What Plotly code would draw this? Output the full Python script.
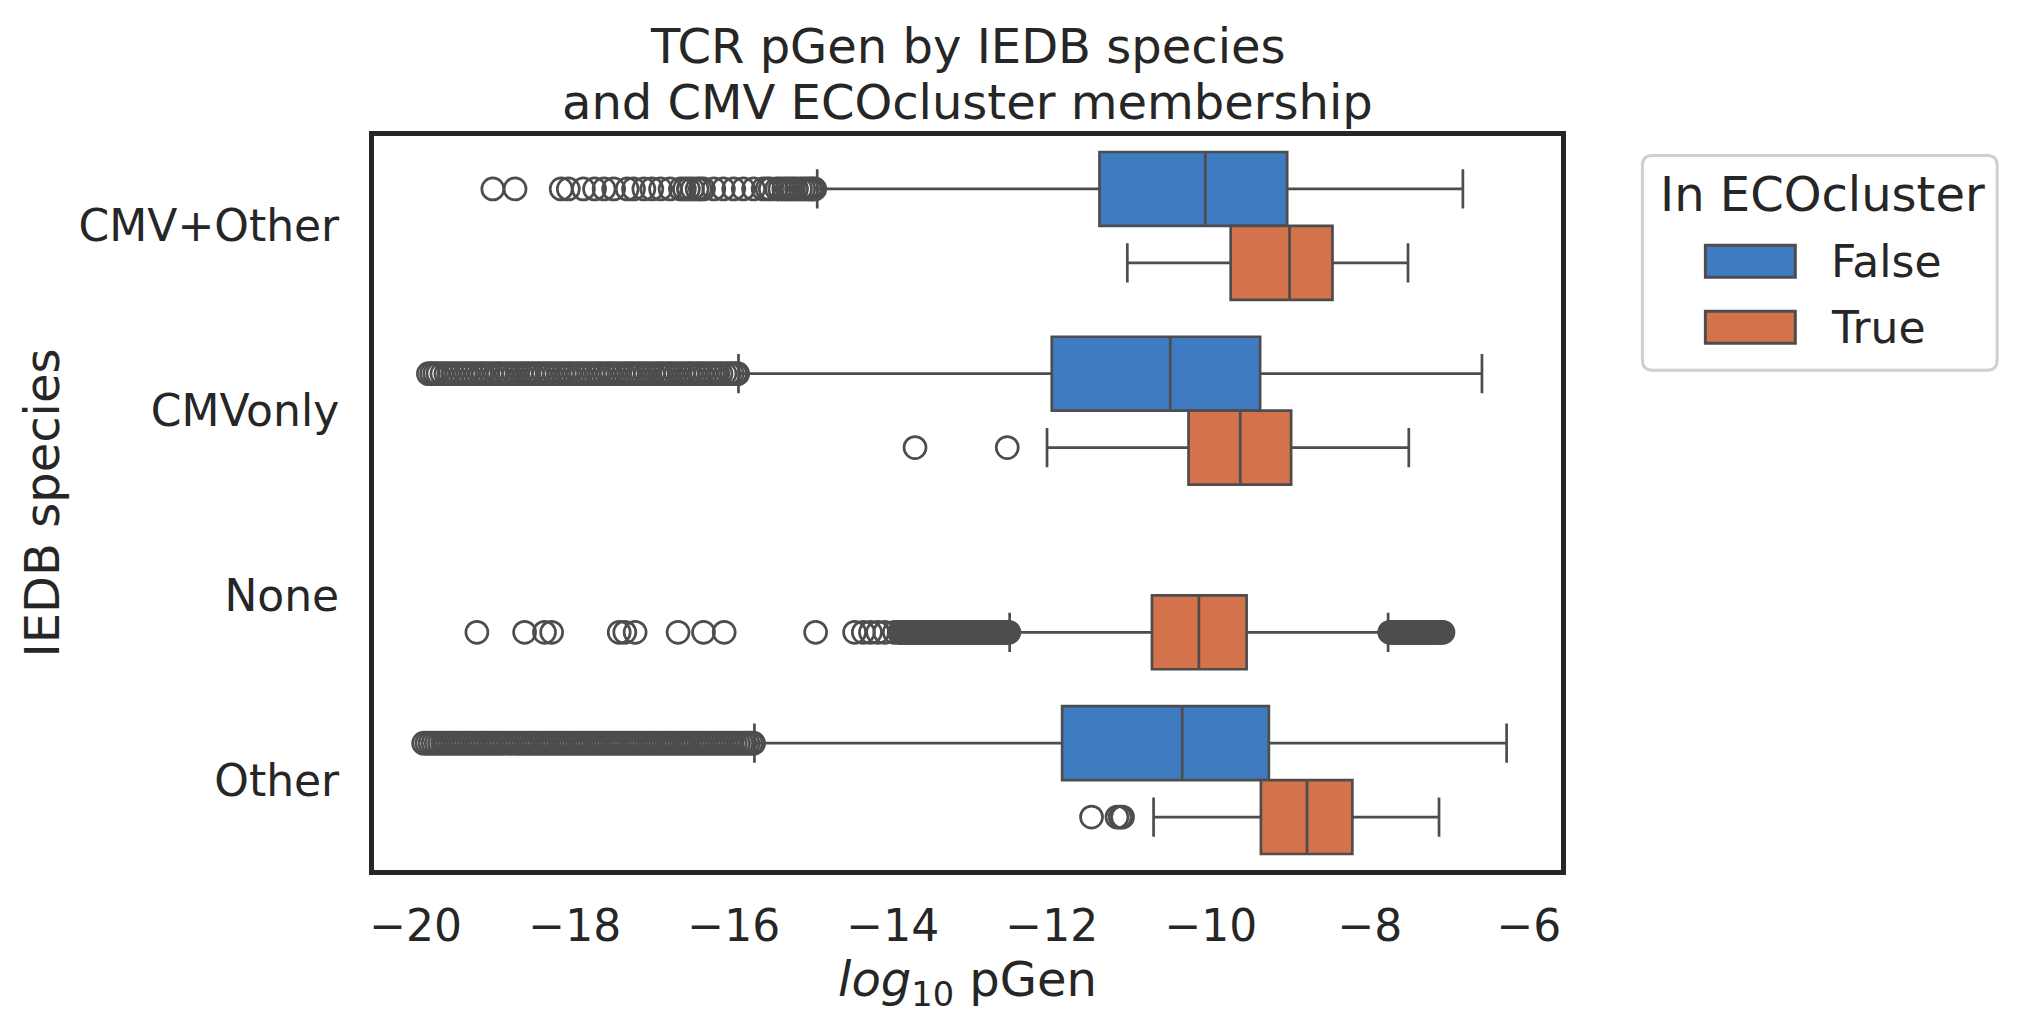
import plotly.graph_objects as go

# ---- data (log10 pGen) ----
SPECIES = ["CMV+Other", "CMVonly", "None", "Other"]
IN_CLUSTER = ["False", "True"]
X_TICKS = [-20, -18, -16, -14, -12, -10, -8, -6]
TITLE_LINES = ["TCR pGen by IEDB species", "and CMV ECOcluster membership"]

# box stats per species, None = group not present
Q1_FALSE = [-11.40, -12.00, None, -11.87]
MED_FALSE = [-10.07, -10.51, None, -10.36]
Q3_FALSE = [-9.04, -9.38, None, -9.27]
LOW_FALSE = [-14.95, -15.94, None, -15.74]
HIGH_FALSE = [-6.83, -6.59, None, -6.28]

Q1_TRUE = [-9.75, -10.28, -10.74, -9.37]
MED_TRUE = [-9.01, -9.63, -10.15, -8.79]
Q3_TRUE = [-8.47, -8.99, -9.55, -8.22]
LOW_TRUE = [-11.05, -12.06, -12.53, -10.72]
HIGH_TRUE = [-7.52, -7.51, -7.77, -7.13]

# outliers
FLIERS_CMV_OTHER_FALSE = [
    -19.03, -18.75, -18.17, -18.08, -17.89, -17.75, -17.63, -17.51, -17.34,
    -17.26, -17.13, -17.03, -16.92, -16.80, -16.67, -16.62, -16.57, -16.52,
    -16.46, -16.42, -16.38, -16.25, -16.13, -16.00, -15.88, -15.75, -15.63,
    -15.58, -15.54, -15.46, -15.42, -15.37, -15.33, -15.29, -15.25, -15.21,
    -15.16, -15.12, -15.08, -15.04, -15.01, -14.98,
]
FLIERS_CMVONLY_FALSE = [
    -19.84, -19.80, -19.76, -19.72, -19.67, -19.62, -19.58, -19.53, -19.48,
    -19.43, -19.38, -19.34, -19.29, -19.24, -19.19, -19.15, -19.10, -19.05,
    -19.00, -18.96, -18.91, -18.86, -18.82, -18.77, -18.72, -18.67, -18.62,
    -18.58, -18.53, -18.48, -18.44, -18.39, -18.34, -18.30, -18.25, -18.20,
    -18.15, -18.10, -18.06, -18.01, -17.96, -17.92, -17.87, -17.82, -17.77,
    -17.72, -17.68, -17.63, -17.58, -17.54, -17.49, -17.44, -17.39, -17.34,
    -17.30, -17.25, -17.20, -17.16, -17.11, -17.06, -17.01, -16.96, -16.92,
    -16.87, -16.82, -16.78, -16.73, -16.68, -16.63, -16.58, -16.54, -16.49,
    -16.44, -16.40, -16.35, -16.30, -16.25, -16.20, -16.16, -16.11, -16.06,
    -16.02, -15.98, -15.95,
]
FLIERS_CMVONLY_TRUE = [-13.72, -12.56]
FLIERS_NONE_TRUE = [
    -19.23, -18.63, -18.38, -18.29, -17.44, -17.37, -17.24, -16.70, -16.38,
    -16.12, -14.97, -14.48, -14.37, -14.28, -14.19, -14.10, -13.98,
    -13.92, -13.90, -13.88, -13.86, -13.84, -13.82, -13.80, -13.78, -13.76,
    -13.74, -13.72, -13.70, -13.68, -13.66, -13.64, -13.62, -13.60, -13.58,
    -13.56, -13.54, -13.52, -13.50, -13.48, -13.46, -13.44, -13.42, -13.40,
    -13.38, -13.36, -13.34, -13.32, -13.30, -13.28, -13.26, -13.24, -13.22,
    -13.20, -13.18, -13.16, -13.14, -13.12, -13.10, -13.08, -13.06, -13.04,
    -13.02, -13.00, -12.98, -12.96, -12.94, -12.92, -12.90, -12.88, -12.86,
    -12.84, -12.82, -12.80, -12.78, -12.76, -12.74, -12.72, -12.70, -12.68,
    -12.66, -12.64, -12.62, -12.60, -12.58, -12.56, -12.54,
    -7.75, -7.73, -7.71, -7.69, -7.67, -7.65, -7.63, -7.61, -7.59, -7.57,
    -7.55, -7.53, -7.51, -7.49, -7.47, -7.45, -7.43, -7.41, -7.39, -7.37,
    -7.35, -7.33, -7.31, -7.29, -7.27, -7.25, -7.23, -7.21, -7.19, -7.17,
    -7.14, -7.11, -7.08,
]
FLIERS_OTHER_FALSE = [
    -19.90, -19.86, -19.82, -19.78, -19.74, -19.70, -19.66, -19.62, -19.58,
    -19.54, -19.50, -19.46, -19.42, -19.38, -19.34, -19.30, -19.26, -19.22,
    -19.18, -19.14, -19.10, -19.06, -19.02, -18.98, -18.94, -18.90, -18.86,
    -18.82, -18.78, -18.74, -18.70, -18.66, -18.62, -18.58, -18.54, -18.50,
    -18.46, -18.42, -18.38, -18.34, -18.30, -18.26, -18.22, -18.18, -18.14,
    -18.10, -18.06, -18.02, -17.98, -17.94, -17.90, -17.86, -17.82, -17.78,
    -17.74, -17.70, -17.66, -17.62, -17.58, -17.54, -17.50, -17.46, -17.42,
    -17.38, -17.34, -17.30, -17.26, -17.22, -17.18, -17.14, -17.10, -17.06,
    -17.02, -16.98, -16.94, -16.90, -16.86, -16.82, -16.78, -16.74, -16.70,
    -16.66, -16.62, -16.58, -16.54, -16.50, -16.46, -16.42, -16.38, -16.34,
    -16.30, -16.26, -16.22, -16.18, -16.14, -16.10, -16.06, -16.02, -15.98,
    -15.94, -15.90, -15.86, -15.82, -15.78, -15.75,
]
FLIERS_OTHER_TRUE = [-11.50, -11.18, -11.14, -11.11]

# ---- style ----
BLUE = "#3f7bc1"
ORANGE = "#d4724b"
LINE = "#4d4d4d"
FRAME = "#262626"
FONT = "DejaVu Sans"

W, H = 2022, 1029
# inner plot area in pixels (plotly draws the 5px frame just outside it)
PL, PR, PT, PB = 373.5, 1561.5, 135.5, 870.5


def px(x):
    return (x - PL) / (PR - PL)


def py(y):
    return (PB - y) / (PB - PT)


fig = go.Figure()

box_sets = [
    ("False", -0.2, BLUE, Q1_FALSE, MED_FALSE, Q3_FALSE, LOW_FALSE, HIGH_FALSE),
    ("True", 0.2, ORANGE, Q1_TRUE, MED_TRUE, Q3_TRUE, LOW_TRUE, HIGH_TRUE),
]
for name, offset, color, q1, med, q3, low, high in box_sets:
    idx = [i for i in range(len(SPECIES)) if q1[i] is not None]
    fig.add_trace(go.Box(
        name=name,
        orientation="h",
        y=[i + offset for i in idx],
        q1=[q1[i] for i in idx],
        median=[med[i] for i in idx],
        q3=[q3[i] for i in idx],
        lowerfence=[low[i] for i in idx],
        upperfence=[high[i] for i in idx],
        width=0.4,
        whiskerwidth=0.53,
        fillcolor=color,
        line=dict(color=LINE, width=2.7),
        boxpoints=False,
        showlegend=False,
    ))

fliers = [
    (0, -0.2, FLIERS_CMV_OTHER_FALSE),
    (1, -0.2, FLIERS_CMVONLY_FALSE),
    (1, 0.2, FLIERS_CMVONLY_TRUE),
    (2, 0.2, FLIERS_NONE_TRUE),
    (3, -0.2, FLIERS_OTHER_FALSE),
    (3, 0.2, FLIERS_OTHER_TRUE),
]
for i, offset, vals in fliers:
    fig.add_trace(go.Scatter(
        x=vals,
        y=[i + offset] * len(vals),
        mode="markers",
        marker=dict(symbol="circle-open", size=22, color=LINE, line=dict(width=2.7)),
        showlegend=False,
        hoverinfo="x",
    ))

# ---- title, one annotation per line (matplotlib-like line spacing) ----
annotations = []
for text, yc in zip(TITLE_LINES, [45, 101]):
    annotations.append(dict(text=text, x=0.5, y=py(yc), xref="paper", yref="paper",
                            showarrow=False, xanchor="center", yanchor="middle",
                            font=dict(family=FONT, size=48, color=FRAME)))

# ---- legend drawn by hand (matplotlib style) ----
lx0, lx1, ly0, ly1, r = 1643, 1998, 155, 370, 10
legend_path = (
    f"M {px(lx0 + r)},{py(ly0)} L {px(lx1 - r)},{py(ly0)} "
    f"Q {px(lx1)},{py(ly0)} {px(lx1)},{py(ly0 + r)} L {px(lx1)},{py(ly1 - r)} "
    f"Q {px(lx1)},{py(ly1)} {px(lx1 - r)},{py(ly1)} L {px(lx0 + r)},{py(ly1)} "
    f"Q {px(lx0)},{py(ly1)} {px(lx0)},{py(ly1 - r)} L {px(lx0)},{py(ly0 + r)} "
    f"Q {px(lx0)},{py(ly0)} {px(lx0 + r)},{py(ly0)} Z"
)
shapes = [dict(type="path", path=legend_path, xref="paper", yref="paper",
               fillcolor="white", line=dict(color="#d0d0d0", width=3))]
annotations.append(dict(text="In ECOcluster", x=px(1823), y=py(194), xref="paper", yref="paper",
                        showarrow=False, xanchor="center", yanchor="middle",
                        font=dict(family=FONT, size=48, color=FRAME)))
for label, color, yc in [(IN_CLUSTER[0], BLUE, 261), (IN_CLUSTER[1], ORANGE, 327)]:
    shapes.append(dict(type="rect", xref="paper", yref="paper",
                       x0=px(1706), x1=px(1796), y0=py(yc - 16), y1=py(yc + 16),
                       fillcolor=color, line=dict(color=LINE, width=3)))
    annotations.append(dict(text=label, x=px(1830), y=py(yc), xref="paper", yref="paper",
                            showarrow=False, xanchor="left", yanchor="middle",
                            font=dict(family=FONT, size=44, color=FRAME)))

fig.update_layout(
    width=W,
    height=H,
    margin=dict(l=PL, r=W - PR, t=PT, b=H - PB, autoexpand=False),
    paper_bgcolor="white",
    plot_bgcolor="white",
    font=dict(family=FONT, size=44, color=FRAME),
    boxmode="overlay",
    showlegend=False,
    shapes=shapes,
    annotations=annotations,
)
fig.update_xaxes(
    range=[-20.524, -5.596],
    tickvals=X_TICKS,
    ticktext=[f"\u2212{abs(v)}" for v in X_TICKS],
    tickfont=dict(size=44),
    ticks="",
    ticklabelstandoff=13,
    showgrid=False,
    zeroline=False,
    showline=True,
    mirror=True,
    linecolor=FRAME,
    linewidth=5,
    title=dict(text="<i>log</i><sub>10</sub> pGen", font=dict(size=48), standoff=13),
)
fig.update_yaxes(
    range=[3.4865, -0.4865],
    tickvals=list(range(len(SPECIES))),
    ticktext=SPECIES,
    tickfont=dict(size=44),
    ticks="",
    ticklabelstandoff=21,
    showgrid=False,
    zeroline=False,
    showline=True,
    mirror=True,
    linecolor=FRAME,
    linewidth=5,
    title=dict(text="IEDB species", font=dict(size=48), standoff=5),
)

# drop the browser's default body margin so the figure sits at the page origin
fig.write_html(
    "out.html",
    config={"displayModeBar": False},
    post_script="document.body.style.margin = '0';",
)
